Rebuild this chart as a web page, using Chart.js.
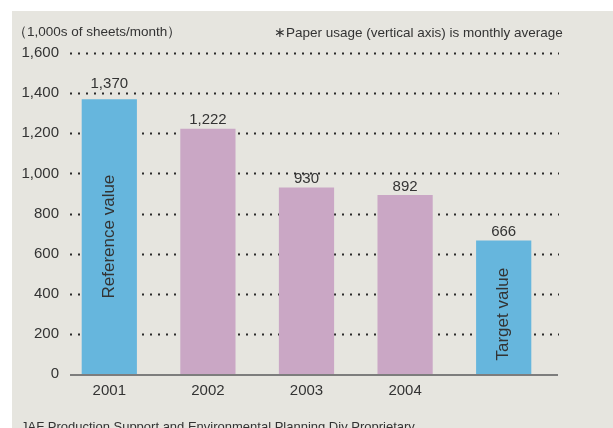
<!DOCTYPE html>
<html>
<head>
<meta charset="utf-8">
<script src="https://cdn.jsdelivr.net/npm/chart.js@4"></script>
<style>
html,body{margin:0;padding:0;background:#fff;}
canvas{display:block;}
</style>
</head>
<body>
<canvas id="c" width="613" height="428"></canvas>
<script>
// ---- data ----
const categories = ['2001', '2002', '2003', '2004', ''];
const usage = [1370, 1222, 930, 892, 666];
const barNotes = ['Reference value', '', '', '', 'Target value'];
const yMin = 0, yMax = 1600, yStep = 200;
const unitLabel = '（1,000s of sheets/month）';
const noteLabel = '∗Paper usage (vertical axis) is monthly average';
const sourceLabel = 'JAF Production Support and Environmental Planning Div Proprietary';

// ---- styles ----
const BLUE = '#66b6dd', PINK = '#caa7c5', BG = '#e6e5df', TXT = '#333333';
const barColors = [BLUE, PINK, PINK, PINK, BLUE];
const FONT = '"Liberation Sans", Arial, Helvetica, sans-serif';

const fmt = v => v.toLocaleString('en-US');

const decor = {
  id: 'decor',
  beforeDraw(chart) {
    const ctx = chart.ctx;
    ctx.save();
    ctx.fillStyle = '#ffffff';
    ctx.fillRect(0, 0, chart.width, chart.height);
    ctx.fillStyle = BG;
    ctx.fillRect(12, 11, chart.width - 12, chart.height - 11);
    ctx.fillStyle = TXT;
    ctx.font = '13.5px ' + FONT;
    ctx.textBaseline = 'middle';
    ctx.textAlign = 'left';
    ctx.fillText(unitLabel, 13, 32);
    ctx.fillText(noteLabel, 274, 33);
    ctx.font = '13px ' + FONT;
    ctx.textBaseline = 'alphabetic';
    ctx.fillText(sourceLabel, 21, 431);
    ctx.restore();
  },
  beforeDatasetsDraw(chart) {
    const ctx = chart.ctx, y = chart.scales.y;
    ctx.save();
    ctx.strokeStyle = '#2a2a2a';
    ctx.lineWidth = 2;
    ctx.setLineDash([2, 6]);
    for (let v = yMin + yStep; v <= yMax; v += yStep) {
      const py = Math.round(y.getPixelForValue(v)) + 0.5;
      ctx.beginPath();
      ctx.moveTo(70, py);
      ctx.lineTo(559, py);
      ctx.stroke();
    }
    ctx.restore();
  },
  afterDatasetsDraw(chart) {
    const ctx = chart.ctx, y = chart.scales.y;
    const meta = chart.getDatasetMeta(0);
    ctx.save();
    // zero axis
    const py0 = y.getPixelForValue(0);
    ctx.strokeStyle = '#7d7d7d';
    ctx.lineWidth = 2;
    ctx.beginPath();
    ctx.moveTo(70, py0 + 1);
    ctx.lineTo(558, py0 + 1);
    ctx.stroke();
    ctx.fillStyle = TXT;
    const gridYs = [];
    for (let v = yMin + yStep; v <= yMax; v += yStep) gridYs.push(y.getPixelForValue(v));
    meta.data.forEach((bar, i) => {
      ctx.font = '15px ' + FONT;
      ctx.textAlign = 'center';
      ctx.textBaseline = 'bottom';
      let bottom = bar.y - 1;
      // keep the value label clear of a gridline that would cut its baseline
      gridYs.forEach(g => { if (g > bottom - 8 && g < bottom + 2) bottom = g - 2; });
      ctx.fillText(fmt(usage[i]), bar.x, bottom);
      if (barNotes[i]) {
        ctx.save();
        ctx.translate(bar.x, (bar.y + bar.base) / 2 + (i === 4 ? 7 : 0));
        ctx.rotate(-Math.PI / 2);
        ctx.font = '17px ' + FONT;
        ctx.textBaseline = 'middle';
        ctx.fillText(barNotes[i], 0, 0);
        ctx.restore();
      }
    });
    ctx.restore();
  }
};

new Chart(document.getElementById('c'), {
  type: 'bar',
  data: {
    labels: categories,
    datasets: [{
      data: usage,
      backgroundColor: barColors,
      borderWidth: 0,
      barPercentage: 0.56,
      categoryPercentage: 1
    }]
  },
  options: {
    responsive: false,
    animation: false,
    devicePixelRatio: 1,
    layout: { padding: { left: 10, right: 60, top: 53, bottom: 0 } },
    plugins: { legend: { display: false }, tooltip: { enabled: false } },
    scales: {
      x: {
        grid: { display: false, drawTicks: false },
        border: { display: false },
        ticks: { color: TXT, font: { size: 15, family: FONT }, padding: 8 },
        afterFit: s => { s.height = 54; }
      },
      y: {
        min: yMin, max: yMax,
        grid: { display: false, drawTicks: false },
        border: { display: false },
        ticks: { stepSize: yStep, color: TXT, font: { size: 15, family: FONT }, padding: 1, callback: v => fmt(v) },
        afterFit: s => { s.width = 50; }
      }
    }
  },
  plugins: [decor]
});
</script>
</body>
</html>
